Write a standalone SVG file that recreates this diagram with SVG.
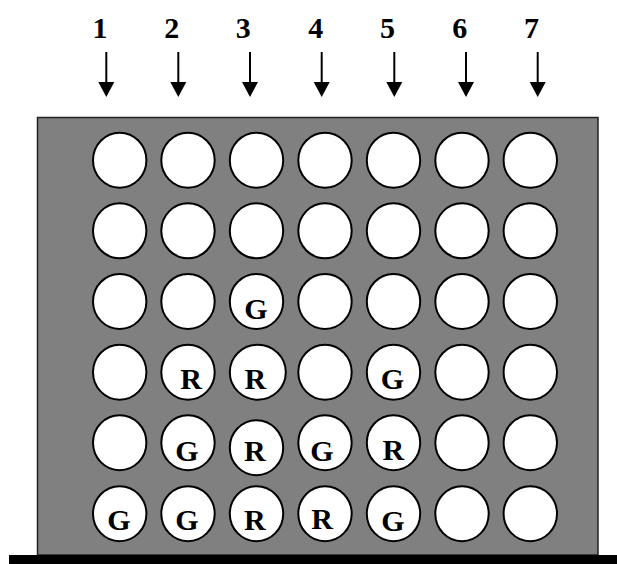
<svg xmlns="http://www.w3.org/2000/svg" xmlns:xlink="http://www.w3.org/1999/xlink" width="617" height="564" viewBox="0 0 617 564">
<style>
.num{font-family:"Liberation Serif","Times New Roman",serif;font-weight:bold;font-size:30px;text-anchor:middle;fill:#000}
.lbl{font-family:"Liberation Serif","Times New Roman",serif;font-weight:bold;font-size:30px;text-anchor:middle;fill:#000}
.hole{fill:#fff;stroke:#000;stroke-width:2}
.shaft{stroke:#000;stroke-width:2}
</style>
<defs>
<g id="arrow"><line class="shaft" x1="0" y1="52" x2="0" y2="84"/><polygon points="-8,82 8,82 0,97" fill="#000"/></g>
</defs>
<g id="headers">
<text class="num" x="100" y="38">1</text>
<text class="num" x="171.7" y="38">2</text>
<text class="num" x="243.3" y="38">3</text>
<text class="num" x="315.8" y="38">4</text>
<text class="num" x="387.5" y="38">5</text>
<text class="num" x="459.8" y="38">6</text>
<text class="num" x="531.5" y="38">7</text>
</g>
<g id="connectors">
<use xlink:href="#arrow" x="106.3"/>
<use xlink:href="#arrow" x="178.3"/>
<use xlink:href="#arrow" x="250"/>
<use xlink:href="#arrow" x="321.7"/>
<use xlink:href="#arrow" x="394.3"/>
<use xlink:href="#arrow" x="466"/>
<use xlink:href="#arrow" x="537.7"/>
</g>
<g id="board">
<rect x="37.5" y="117.5" width="560.5" height="437.5" fill="#808080" stroke="#222" stroke-width="1.5"/>
<rect x="9" y="555" width="608" height="9" fill="#000"/>
</g>
<g id="row1">
<g id="c1r1"><ellipse class="hole" cx="119.7" cy="160.2" rx="26.7" ry="27.5"/></g>
<g id="c2r1"><ellipse class="hole" cx="188" cy="160.2" rx="26.7" ry="27.5"/></g>
<g id="c3r1"><ellipse class="hole" cx="256.5" cy="160.2" rx="26.7" ry="27.5"/></g>
<g id="c4r1"><ellipse class="hole" cx="325" cy="160.2" rx="26.7" ry="27.5"/></g>
<g id="c5r1"><ellipse class="hole" cx="393.5" cy="160.2" rx="26.7" ry="27.5"/></g>
<g id="c6r1"><ellipse class="hole" cx="462" cy="160.2" rx="26.7" ry="27.5"/></g>
<g id="c7r1"><ellipse class="hole" cx="530.3" cy="160.2" rx="26.7" ry="27.5"/></g>
</g>
<g id="row2">
<g id="c1r2"><ellipse class="hole" cx="119.7" cy="230.8" rx="26.7" ry="27.5"/></g>
<g id="c2r2"><ellipse class="hole" cx="188" cy="230.8" rx="26.7" ry="27.5"/></g>
<g id="c3r2"><ellipse class="hole" cx="256.5" cy="230.8" rx="26.7" ry="27.5"/></g>
<g id="c4r2"><ellipse class="hole" cx="325" cy="230.8" rx="26.7" ry="27.5"/></g>
<g id="c5r2"><ellipse class="hole" cx="393.5" cy="230.8" rx="26.7" ry="27.5"/></g>
<g id="c6r2"><ellipse class="hole" cx="462" cy="230.8" rx="26.7" ry="27.5"/></g>
<g id="c7r2"><ellipse class="hole" cx="530.3" cy="230.8" rx="26.7" ry="27.5"/></g>
</g>
<g id="row3">
<g id="c1r3"><ellipse class="hole" cx="119.7" cy="301.4" rx="26.7" ry="27.5"/></g>
<g id="c2r3"><ellipse class="hole" cx="188" cy="301.4" rx="26.7" ry="27.5"/></g>
<g id="c3r3"><ellipse class="hole" cx="256.5" cy="301.4" rx="26.7" ry="27.5"/><text class="lbl" x="256" y="318.5">G</text></g>
<g id="c4r3"><ellipse class="hole" cx="325" cy="301.4" rx="26.7" ry="27.5"/></g>
<g id="c5r3"><ellipse class="hole" cx="393.5" cy="301.4" rx="26.7" ry="27.5"/></g>
<g id="c6r3"><ellipse class="hole" cx="462" cy="301.4" rx="26.7" ry="27.5"/></g>
<g id="c7r3"><ellipse class="hole" cx="530.3" cy="301.4" rx="26.7" ry="27.5"/></g>
</g>
<g id="row4">
<g id="c1r4"><ellipse class="hole" cx="119.7" cy="372.2" rx="26.7" ry="27.5"/></g>
<g id="c2r4"><ellipse class="hole" cx="188" cy="372.2" rx="26.7" ry="27.5"/><text class="lbl" x="191" y="389">R</text></g>
<g id="c3r4"><ellipse class="hole" cx="257.8" cy="372.2" rx="28" ry="27.5"/><text class="lbl" x="255.3" y="389">R</text></g>
<g id="c4r4"><ellipse class="hole" cx="325" cy="372.2" rx="26.7" ry="27.5"/></g>
<g id="c5r4"><ellipse class="hole" cx="393.5" cy="372.2" rx="26.7" ry="27.5"/><text class="lbl" x="392.5" y="389.3">G</text></g>
<g id="c6r4"><ellipse class="hole" cx="462" cy="372.2" rx="26.7" ry="27.5"/></g>
<g id="c7r4"><ellipse class="hole" cx="530.3" cy="372.2" rx="26.7" ry="27.5"/></g>
</g>
<g id="row5">
<g id="c1r5"><ellipse class="hole" cx="119.7" cy="442.7" rx="26.7" ry="27.5"/></g>
<g id="c2r5"><ellipse class="hole" cx="188" cy="442.7" rx="26.7" ry="27.5"/><text class="lbl" x="187" y="461">G</text></g>
<g id="c3r5"><ellipse class="hole" cx="256.5" cy="447.7" rx="26.7" ry="27.5"/><text class="lbl" x="254.8" y="461">R</text></g>
<g id="c4r5"><ellipse class="hole" cx="325" cy="442.7" rx="26.7" ry="27.5"/><text class="lbl" x="322" y="461">G</text></g>
<g id="c5r5"><ellipse class="hole" cx="393.5" cy="442.7" rx="26.7" ry="27.5"/><text class="lbl" x="393.3" y="460">R</text></g>
<g id="c6r5"><ellipse class="hole" cx="462" cy="442.7" rx="26.7" ry="27.5"/></g>
<g id="c7r5"><ellipse class="hole" cx="530.3" cy="442.7" rx="26.7" ry="27.5"/></g>
</g>
<g id="row6">
<g id="c1r6"><ellipse class="hole" cx="119.7" cy="513.7" rx="26.7" ry="27.5"/><text class="lbl" x="119" y="530">G</text></g>
<g id="c2r6"><ellipse class="hole" cx="188" cy="513.7" rx="26.7" ry="27.5"/><text class="lbl" x="187" y="530">G</text></g>
<g id="c3r6"><ellipse class="hole" cx="256.5" cy="513.7" rx="26.7" ry="27.5"/><text class="lbl" x="254.8" y="530">R</text></g>
<g id="c4r6"><ellipse class="hole" cx="325" cy="513.7" rx="26.7" ry="27.5"/><text class="lbl" x="322" y="529">R</text></g>
<g id="c5r6"><ellipse class="hole" cx="393.5" cy="513.7" rx="26.7" ry="27.5"/><text class="lbl" x="393" y="531">G</text></g>
<g id="c6r6"><ellipse class="hole" cx="462" cy="513.7" rx="26.7" ry="27.5"/></g>
<g id="c7r6"><ellipse class="hole" cx="530.3" cy="513.7" rx="26.7" ry="27.5"/></g>
</g>
</svg>
